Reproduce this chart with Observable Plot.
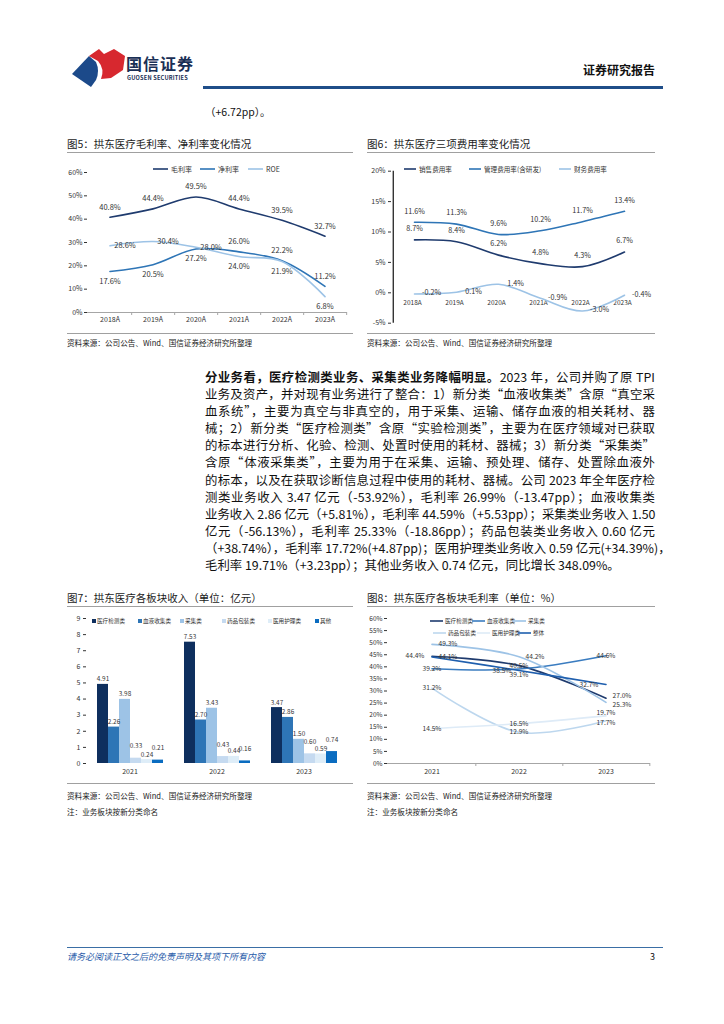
<!DOCTYPE html>
<html><head><meta charset="utf-8">
<script src="https://cdn.jsdelivr.net/npm/d3@7"></script>
<script src="https://cdn.jsdelivr.net/npm/@observablehq/plot@0.6"></script>
<style>
body{margin:0;background:#fff;}
#page{position:relative;width:724px;height:1024px;overflow:hidden;font-family:"Noto Sans CJK SC","Noto Sans",sans-serif;color:#222;background:#fff;}
.abs{position:absolute;white-space:nowrap;}
.title{font-size:10.5px;color:#1a1a1a;}
.hr{position:absolute;height:0;border-top:1.5px solid #a0a0a0;}
.src{font-size:7.6px;color:#222;}
.body{position:absolute;left:205px;top:369px;width:450px;font-size:12.4px;line-height:17.1px;color:#111;}
.body div{text-align:justify;text-align-last:justify;white-space:nowrap;}
.body div.last{text-align-last:left;}
.lg{position:absolute;white-space:nowrap;color:#333;display:flex;align-items:center;}
</style></head>
<body><div id="page"></div>
<script>
// ---------- DATA ----------
const years5 = ["2018A","2019A","2020A","2021A","2022A","2023A"];
const series5 = ["毛利率","净利率","ROE"];
const grossMargin5 = [40.8,44.4,49.5,44.4,39.5,32.7];
const netMargin5 = [17.6,20.5,27.2,26.0,22.2,11.2];
const roe5 = [28.6,30.4,28.0,24.0,21.9,6.8];
const ticks5 = [0,10,20,30,40,50,60];

const years6 = ["2018A","2019A","2020A","2021A","2022A","2023A"];
const series6 = ["销售费用率","管理费用率(含研发)","财务费用率"];
const sales6 = [8.7,8.4,6.2,4.8,4.3,6.7];
const admin6 = [11.6,11.3,9.6,10.2,11.7,13.4];
const fin6 = [-0.2,0.1,1.4,-0.9,-3.0,-0.4];
const ticks6 = [-5,0,5,10,15,20];

const years7 = ["2021","2022","2023"];
const series7 = ["医疗检测类","血液收集类","采集类","药品包装类","医用护理类","其他"];
const detect7 = [4.91,7.53,3.47];
const blood7 = [2.26,2.70,2.86];
const collect7 = [3.98,3.43,1.50];
const pharma7 = [0.33,0.43,0.60];
const care7 = [0.24,0.44,0.59];
const other7 = [0.21,0.16,0.74];
const ticks7 = [0,1,2,3,4,5,6,7,8,9];

const years8 = ["2021","2022","2023"];
const series8 = ["医疗检测类","血液收集类","采集类","药品包装类","医用护理类","整体"];
const gmDetect8 = [44.4,40.5,27.0];
const gmBlood8 = [39.2,39.1,44.6];
const gmCollect8 = [49.3,44.2,25.3];
const gmPharma8 = [31.2,12.9,17.7];
const gmCare8 = [14.5,16.5,19.7];
const gmTotal8 = [44.1,38.5,32.7];
const ticks8 = [0,5,10,15,20,25,30,35,40,45,50,55,60];

// ---------- STYLE / LAYOUT CONFIG ----------
const colors5 = ["#1f3b6e","#2e75b6","#9dc3e6"];
const colors6 = ["#1f3b6e","#2e75b6","#9dc3e6"];
const colors7 = ["#0e2f5e","#2e75b6","#9dc3e6","#c5daf0","#deedf8","#0a6cc0"];
const colors8 = ["#1f3b6e","#3a7cc0","#9dc3e6","#bdd7ee","#deebf7","#1f5fae"];
const place5 = [
  ["top","top","top","top","top","top"],
  ["bottom","bottom","bottom","top","top","top"],
  ["right","right","right","bottom","bottom","bottom"]];
const place6 = [
  ["top","top","top","top","top","top"],
  ["top","top","top","top","top","top"],
  ["right","right","right","right","right","right"]];
const place7 = [
  ["low","low","low"],
  ["low","low","low"],
  ["low","low","low"],
  ["high","high","high"],
  ["low","low","low"],
  ["high","high","high"]];
const place8 = [
  ["left","center","rightUp"],
  ["center","bottom","center"],
  ["right","right","rightDown"],
  ["center","center","down"],
  ["center","center","up"],
  ["right","left","left"]];

const FONT = '"Noto Sans CJK SC","Noto Sans",sans-serif';
const page = document.getElementById("page");

function el(tag, cls, css, html){
  const e = document.createElement(tag);
  if (cls) e.className = cls;
  Object.assign(e.style, css || {});
  if (html != null) e.innerHTML = html;
  page.appendChild(e);
  return e;
}
function place(node, left, top){
  node.style.position = "absolute"; node.style.left = left + "px"; node.style.top = top + "px";
  page.appendChild(node);
}
function toRows(cats, names, arrays, places){
  const rows = [];
  names.forEach((s, i) => cats.forEach((c, j) => rows.push({cat: c, series: s, value: arrays[i][j], place: places ? places[i][j] : "top"})));
  return rows;
}
function labelMarks(rows, offsets, opts){
  return Object.entries(offsets).map(([k, [dx, dy]]) =>
    Plot.text(rows.filter(r => r.place === k), {...opts, dx, dy}));
}
const pct1 = d => d.value.toFixed(1) + "%";
const baseStyle = {fontFamily: FONT, fontSize: "7px", color: "#333", background: "transparent", overflow: "visible"};
const W = 295, H = 170;

// ---------- HEADER ----------
el("div", "abs", {left: "70px", top: "47px"}, `<svg width="56" height="42" viewBox="0 0 56 42">
 <path d="M2,27 L19,9 L26,15 Q30,24 26,33 L21,40 Z" fill="#1c4a8a"/>
 <path d="M19,9 L29,2 L34,7 L44,2 L55,9 L53,23 L41,31 L31,32 Q35,22 28,14 Z" fill="#d7282f"/>
</svg>`);
el("div", "abs", {left: "126px", top: "51px", fontSize: "16px", fontWeight: "700", color: "#1a2f55", letterSpacing: "1px"}, "国信证券");
el("div", "abs", {left: "127px", top: "74px", fontSize: "5.6px", fontWeight: "700", color: "#1a2f55", letterSpacing: "0.2px"}, "GUOSEN SECURITIES");
el("div", "abs", {left: "583px", top: "61px", fontSize: "12px", fontWeight: "700", color: "#111"}, "证券研究报告");
el("div", "", {position: "absolute", left: "203px", top: "86px", width: "460px", height: "2.5px", background: "#1f4e89"});
el("div", "abs", {left: "205px", top: "104px", fontSize: "10.5px", color: "#111"}, "（+6.72pp）。");

// ---------- CHART 5 ----------
el("div", "abs title", {left: "67px", top: "136px"}, "图5：拱东医疗毛利率、净利率变化情况");
el("div", "hr", {left: "67px", top: "152px", width: "286px"});
{
  const rows = toRows(years5, series5, [grossMargin5, netMargin5, roe5], place5);
  const m = {t: 12, b: 18, l: 27, r: 8};
  const bw = (W - m.l - m.r) / years5.length;
  const off = {top: [0, -10], bottom: [0, 10], right: [15, 0]};
  const p = Plot.plot({
    width: W, height: H, marginTop: m.t, marginBottom: m.b, marginLeft: m.l, marginRight: m.r,
    style: baseStyle,
    x: {type: "band", domain: years5, padding: 0, label: null},
    y: {domain: [0, 60], label: null},
    color: {domain: series5, range: colors5},
    marks: [
      Plot.ruleY([0], {stroke: "#a6a6a6"}),
      Plot.axisY({ticks: ticks5, tickSize: 3, tickPadding: 2, tickFormat: d => d + "%", label: null}),
      Plot.axisX({tickSize: 0, tickPadding: 5, label: null}),
      Plot.axisX({tickSize: 3, dx: bw / 2, tickFormat: () => "", label: null, stroke: "#a6a6a6"}),
      Plot.line(rows, {x: "cat", y: "value", stroke: "series", z: "series", curve: "catmull-rom", strokeWidth: 1.6}),
      ...labelMarks(rows, off, {x: "cat", y: "value", text: pct1, fill: "#333", fontSize: 7.5})
    ]
  });
  place(p, 60, 160);
  const lg = [[153, series5[0]], [200, series5[1]], [248, series5[2]]];
  lg.forEach(([x, name], i) => {
    el("div", "lg", {left: x + "px", top: "164px", fontSize: "7px"},
      `<svg width="15" height="6"><line x1="0" x2="15" y1="3" y2="3" stroke="${colors5[i]}" stroke-width="1.6"/></svg><span style="margin-left:3px">${name}</span>`);
  });
}
el("div", "hr", {left: "67px", top: "333px", width: "286px"});
el("div", "abs src", {left: "67px", top: "337px"}, "资料来源：公司公告、Wind、国信证券经济研究所整理");

// ---------- CHART 6 ----------
el("div", "abs title", {left: "367px", top: "136px"}, "图6：拱东医疗三项费用率变化情况");
el("div", "hr", {left: "367px", top: "152px", width: "288px"});
{
  const rows = toRows(years6, series6, [sales6, admin6, fin6], place6);
  const m = {t: 10.7, b: 7.3, l: 29, r: 11};
  const bw = (W - m.l - m.r) / years6.length;
  const off = {top: [0, -11], right: [17, -1]};
  const p = Plot.plot({
    width: W, height: H, marginTop: m.t, marginBottom: m.b, marginLeft: m.l, marginRight: m.r,
    style: baseStyle,
    x: {type: "band", domain: years6, padding: 0, label: null, axis: null},
    y: {domain: [-5, 20], label: null, axis: null},
    color: {domain: series6, range: colors6},
    marks: [
      Plot.ruleX([years6[0]], {dx: -bw / 2, stroke: "#111", strokeWidth: 1.2}),
      Plot.axisY({ticks: ticks6, tickSize: 3, tickPadding: 3, tickFormat: d => d + "%", label: null}),
      Plot.text(years6, {x: d => d, y: 0, dy: 10.5, dx: -2, fill: "#333", fontSize: 6.5}),
      Plot.line(rows, {x: "cat", y: "value", stroke: "series", z: "series", curve: "catmull-rom", strokeWidth: 1.6}),
      ...labelMarks(rows, off, {x: "cat", y: "value", text: pct1, fill: "#333", fontSize: 7.2})
    ]
  });
  place(p, 362, 160);
  const lg = [[404, series6[0]], [469, series6[1]], [559, series6[2]]];
  lg.forEach(([x, name], i) => {
    el("div", "lg", {left: x + "px", top: "164px", fontSize: "6.6px"},
      `<svg width="12" height="6"><line x1="0" x2="12" y1="3" y2="3" stroke="${colors6[i]}" stroke-width="1.6"/></svg><span style="margin-left:3px">${name}</span>`);
  });
}
el("div", "hr", {left: "367px", top: "333px", width: "288px"});
el("div", "abs src", {left: "367px", top: "337px"}, "资料来源：公司公告、Wind、国信证券经济研究所整理");

// ---------- BODY TEXT ----------
const bodyLines = [
  "<b>分业务看，医疗检测类业务、采集类业务降幅明显。</b>2023 年，公司并购了原 TPI",
  "业务及资产，并对现有业务进行了整合：1）新分类“血液收集类”含原“真空采",
  "血系统”，主要为真空与非真空的，用于采集、运输、储存血液的相关耗材、器",
  "械；2）新分类“医疗检测类”含原“实验检测类”，主要为在医疗领域对已获取",
  "的标本进行分析、化验、检测、处置时使用的耗材、器械；3）新分类“采集类”",
  "含原“体液采集类”，主要为用于在采集、运输、预处理、储存、处置除血液外",
  "的标本，以及在获取诊断信息过程中使用的耗材、器械。公司 2023 年全年医疗检",
  "测类业务收入 3.47 亿元（-53.92%），毛利率 26.99%（-13.47pp）；血液收集类",
  "业务收入 2.86 亿元（+5.81%），毛利率 44.59%（+5.53pp）；采集类业务收入 1.50",
  "亿元（-56.13%），毛利率 25.33%（-18.86pp）；药品包装类业务收入 0.60 亿元",
  "（+38.74%），毛利率 17.72%(+4.87pp)；医用护理类业务收入 0.59 亿元(+34.39%)，",
  "毛利率 19.71%（+3.23pp）；其他业务收入 0.74 亿元，同比增长 348.09%。"
];
{
  const b = el("div", "body", {});
  bodyLines.forEach((t, i) => {
    const d = document.createElement("div");
    if (i === bodyLines.length - 1) d.className = "last";
    d.innerHTML = t;
    b.appendChild(d);
  });
}

// ---------- CHART 7 ----------
el("div", "abs title", {left: "67px", top: "590px"}, "图7：拱东医疗各板块收入（单位：亿元）");
el("div", "hr", {left: "67px", top: "606px", width: "286px"});
{
  const rows = toRows(years7, series7, [detect7, blood7, collect7, pharma7, care7, other7], place7);
  const off = {low: [0, -5], high: [0, -12]};
  const p = Plot.plot({
    width: W, height: H, marginTop: 8, marginBottom: 17, marginLeft: 25, marginRight: 8,
    style: baseStyle,
    fx: {domain: years7, padding: 0, label: null, axis: "bottom", tickSize: 0, tickPadding: 6},
    x: {domain: series7, paddingInner: 0, paddingOuter: 0.75, axis: null, label: null},
    y: {domain: [0, 9], ticks: ticks7, tickSize: 3, tickPadding: 3, label: null},
    color: {domain: series7, range: colors7},
    marks: [
      Plot.barY(rows, {fx: "cat", x: "series", y: "value", fill: "series"}),
      ...labelMarks(rows, off, {fx: "cat", x: "series", y: "value", text: d => d.value.toFixed(2), fill: "#333", fontSize: 6.4})
    ]
  });
  place(p, 60, 610);
  const lg = [92, 138, 180, 222, 268, 315];
  lg.forEach((x, i) => {
    el("div", "lg", {left: x + "px", top: "617px", fontSize: "5.6px"},
      `<svg width="4" height="4"><rect width="4" height="4" fill="${colors7[i]}"/></svg><span style="margin-left:1px">${series7[i]}</span>`);
  });
}
el("div", "hr", {left: "67px", top: "783px", width: "286px"});
el("div", "abs src", {left: "67px", top: "790px"}, "资料来源：公司公告、Wind、国信证券经济研究所整理");
el("div", "abs src", {left: "67px", top: "806px"}, "注：业务板块按新分类命名");

// ---------- CHART 8 ----------
el("div", "abs title", {left: "367px", top: "590px"}, "图8：拱东医疗各板块毛利率（单位：%）");
el("div", "hr", {left: "367px", top: "606px", width: "288px"});
{
  const rows = toRows(years8, series8, [gmDetect8, gmBlood8, gmCollect8, gmPharma8, gmCare8, gmTotal8], place8);
  const m = {t: 8, b: 17, l: 25, r: 7};
  const bw = (W - m.l - m.r) / years8.length;
  const off = {left: [-17, 0], right: [16, 0], bottom: [0, 6], center: [0, 0],
               rightUp: [16, -2.8], rightDown: [16, 2.8], up: [0, -2.6], down: [0, 2.6]};
  const p = Plot.plot({
    width: W, height: H, marginTop: m.t, marginBottom: m.b, marginLeft: m.l, marginRight: m.r,
    style: baseStyle,
    x: {type: "band", domain: years8, padding: 0, label: null},
    y: {domain: [0, 60], label: null},
    color: {domain: series8, range: colors8},
    marks: [
      Plot.ruleY([0], {stroke: "#a6a6a6"}),
      Plot.axisY({ticks: ticks8, tickSize: 3, tickPadding: 2, tickFormat: d => d + "%", label: null, fontSize: 6.5}),
      Plot.axisX({tickSize: 0, tickPadding: 6, label: null}),
      Plot.axisX({tickSize: 3, dx: bw / 2, tickFormat: () => "", label: null, stroke: "#a6a6a6"}),
      Plot.line(rows, {x: "cat", y: "value", stroke: "series", z: "series", curve: "catmull-rom", strokeWidth: 1.6}),
      ...labelMarks(rows, off, {x: "cat", y: "value", text: pct1, fill: "#333", fontSize: 6.6})
    ]
  });
  place(p, 362, 610);
  const lg = [[430, 617], [472, 617], [513, 617], [433, 629], [477, 629], [518, 629]];
  lg.forEach(([x, y], i) => {
    el("div", "lg", {left: x + "px", top: y + "px", fontSize: "5.6px"},
      `<svg width="13" height="6"><line x1="0" x2="13" y1="3" y2="3" stroke="${colors8[i]}" stroke-width="1.6"/></svg><span style="margin-left:2px">${series8[i]}</span>`);
  });
}
el("div", "hr", {left: "367px", top: "783px", width: "288px"});
el("div", "abs src", {left: "367px", top: "790px"}, "资料来源：公司公告、Wind、国信证券经济研究所整理");
el("div", "abs src", {left: "367px", top: "806px"}, "注：业务板块按新分类命名");

// ---------- FOOTER ----------
el("div", "", {position: "absolute", left: "67px", top: "947px", width: "596px", height: "1px", background: "#3a6ea5"});
el("div", "abs", {left: "67px", top: "950px", fontSize: "9px", fontStyle: "italic", color: "#2a5caa"}, "请务必阅读正文之后的免责声明及其项下所有内容");
el("div", "abs", {left: "650px", top: "950px", fontSize: "9px", color: "#111"}, "3");
</script>
</body></html>
